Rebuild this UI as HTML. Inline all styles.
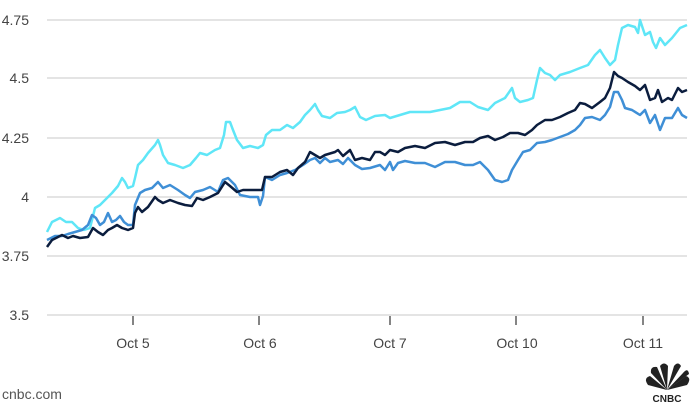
<!DOCTYPE html>
<html><head><style>
body{margin:0;background:#fff;width:696px;height:407px;overflow:hidden;font-family:"Liberation Sans",sans-serif}
</style></head><body>
<svg width="696" height="407" viewBox="0 0 696 407" xmlns="http://www.w3.org/2000/svg">
<g stroke="#dcdcdc" stroke-width="1.5">
<line x1="47" y1="20" x2="687" y2="20"/><line x1="47" y1="78" x2="687" y2="78"/>
<line x1="47" y1="138" x2="687" y2="138"/><line x1="47" y1="197" x2="687" y2="197"/>
<line x1="47" y1="256" x2="687" y2="256"/><line x1="47" y1="315" x2="687" y2="315"/>
</g>
<g stroke="#333" stroke-width="1.2">
<line x1="133" y1="316" x2="133" y2="325"/><line x1="259" y1="316" x2="259" y2="325"/>
<line x1="390" y1="316" x2="390" y2="325"/><line x1="516" y1="316" x2="516" y2="325"/>
<line x1="643" y1="316" x2="643" y2="325"/>
</g>
<g font-size="14" fill="#444" text-anchor="end">
<text x="29" y="25">4.75</text><text x="29" y="83">4.5</text><text x="29" y="143">4.25</text>
<text x="29" y="202">4</text><text x="29" y="261">3.75</text><text x="29" y="320">3.5</text>
</g>
<g font-size="14" fill="#444" text-anchor="middle">
<text x="133" y="348">Oct 5</text><text x="260" y="348">Oct 6</text><text x="390" y="348">Oct 7</text>
<text x="517" y="348">Oct 10</text><text x="643" y="348">Oct 11</text>
</g>
<text x="2" y="399" font-size="14" fill="#555">cnbc.com</text>
<g fill="none" stroke-width="2.5" stroke-linejoin="round">
<polyline stroke="#5fe6f7" points="47,232 52,222 60,218 66,222 72,222 78,228 84,230 90,228 95,208 100,205 105,200 112,193 118,186 122,178 125,182 128,188 133,186 135,178 138,165 143,160 148,153 155,145 158,140 160,145 163,155 168,163 175,165 183,168 190,165 196,158 200,153 207,155 215,150 220,148 224,135 226,122 230,122 233,130 237,140 243,148 250,146 258,148 263,145 266,135 272,130 280,130 287,125 293,128 300,122 305,115 310,110 315,104 318,110 322,116 330,118 337,113 345,112 350,110 355,107 360,117 366,120 375,116 385,115 390,118 400,115 410,112 420,112 430,112 440,110 450,108 460,102 470,102 478,107 488,110 495,103 505,98 512,88 515,98 520,102 528,100 533,98 537,80 540,68 545,73 550,75 555,80 560,75 570,72 580,68 588,65 595,55 600,50 605,58 610,65 615,60 618,45 622,28 628,25 635,27 638,33 640,20 645,35 650,32 653,42 656,48 660,38 665,45 672,38 680,28 687,25"/>
<polyline stroke="#3f8fd6" points="47,240 55,236 62,236 68,234 75,232 82,230 88,225 92,215 96,218 100,225 104,222 108,213 112,222 116,220 120,216 124,222 128,225 133,225 135,205 140,193 145,190 152,188 158,182 163,188 170,185 178,190 185,195 190,198 195,192 203,190 210,187 218,192 223,180 228,178 235,185 240,195 250,197 258,197 260,205 263,196 265,177 272,180 280,175 287,173 295,170 303,165 310,160 315,158 320,163 325,158 330,162 338,160 343,164 348,158 355,165 362,169 370,168 380,165 385,170 390,162 393,170 398,163 405,161 415,163 425,163 435,167 445,162 455,162 465,165 473,165 480,162 488,170 495,180 502,182 508,180 512,170 518,160 523,152 530,150 537,143 545,142 552,140 560,137 568,134 575,130 580,125 585,118 592,117 600,120 605,115 610,107 614,92 618,92 622,100 625,108 632,110 640,115 645,110 650,123 655,115 660,130 665,118 672,118 678,108 682,115 687,118"/>
<polyline stroke="#0b1d3e" points="47,247 52,240 58,237 62,235 68,238 73,236 80,238 88,237 93,228 98,232 103,235 108,230 112,228 117,225 122,228 128,230 133,228 135,213 138,207 142,212 148,207 155,197 158,200 163,203 170,200 178,203 185,205 192,206 197,198 203,200 210,197 218,193 225,182 230,186 237,192 243,190 250,190 258,190 262,190 265,177 272,177 280,172 287,170 293,175 298,168 305,162 310,152 315,155 320,158 325,155 335,152 338,150 343,156 350,150 355,160 362,158 370,160 375,152 380,152 385,155 390,150 398,152 405,148 415,146 425,148 435,143 445,142 455,145 465,142 473,142 480,138 488,136 495,140 503,137 510,133 518,133 525,135 532,130 537,125 545,120 552,120 560,117 568,113 575,110 580,103 585,104 592,108 600,102 605,98 610,88 614,72 618,76 622,78 628,82 635,86 640,90 645,85 650,100 655,98 658,90 662,102 668,98 672,100 678,88 682,92 687,90"/>
</g>
<g fill="#222">
<path d="M667,390 L648,385 Q643,378 650,376 Z"/>
<path d="M667,390 L651,373 Q650,366 657,367 Z"/>
<path d="M667,390 L660,366 Q664,361 668,366 Z"/>
<path d="M667,390 L674,366 Q678,361 681,366 Z"/>
<path d="M667,390 L683,373 Q688,367 689,374 Z"/>
<path d="M667,390 L687,385 Q692,378 686,376 Z"/>
</g>
<text x="667" y="402" font-size="10" font-weight="bold" fill="#222" text-anchor="middle">CNBC</text>
</svg>
</body></html>
